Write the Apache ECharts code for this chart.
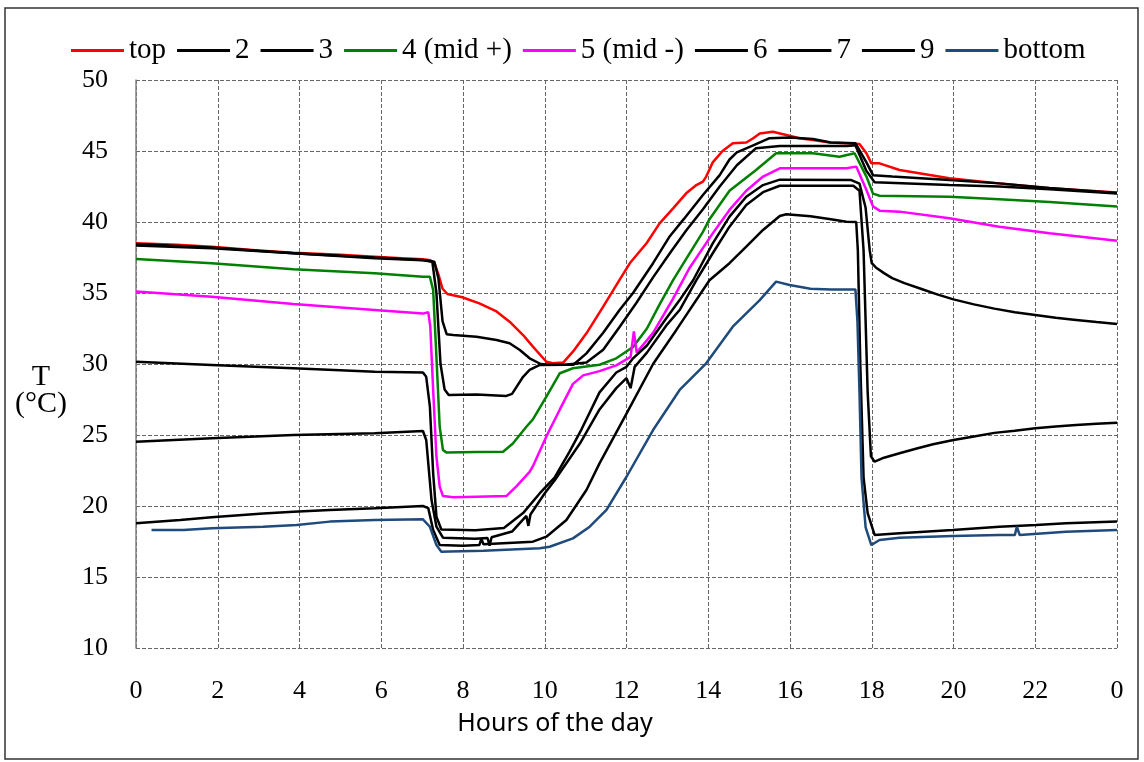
<!DOCTYPE html>
<html>
<head>
<meta charset="utf-8">
<script src="https://cdn.jsdelivr.net/npm/echarts@6/dist/echarts.min.js"></script>
<style>
  html, body { margin: 0; padding: 0; background: #fff; }
  #main { width: 1144px; height: 762px; }
</style>
</head>
<body>
<div id="main"></div>
<script>
// hour ticks, 0..24, last one printed as 0 again
var hourTicks = [0, 2, 4, 6, 8, 10, 12, 14, 16, 18, 20, 22, 24];
var seriesNames = ['top', '2', '3', '4 (mid +)', '5 (mid -)', '6', '7', '9', 'bottom'];
var seriesColors = ['#ff0000', '#000000', '#000000', '#008000', '#ff00ff', '#000000', '#000000', '#000000', '#1f4a7c'];

// [hour, T in °C]
var topT = [[0,38.5],[1,38.4],[1.85,38.26],[3,38.0],[3.85,37.84],[5,37.7],[5.84,37.56],[6.5,37.45],[7.02,37.37],[7.2,37.3],[7.3,37.1],[7.4,36.3],[7.5,35.3],[7.62,34.93],[7.98,34.7],[8.4,34.27],[8.82,33.7],[9.14,32.98],[9.47,32.04],[9.71,31.22],[10.04,30.16],[10.2,30.05],[10.45,30.1],[10.69,30.87],[11.02,32.16],[11.43,34.04],[11.83,35.92],[12.08,37.09],[12.49,38.5],[12.81,39.9],[13.14,40.96],[13.46,42.02],[13.71,42.6],[13.87,42.84],[13.95,43.2],[14.11,44.2],[14.35,45.0],[14.6,45.54],[14.93,45.6],[15.1,45.9],[15.26,46.24],[15.58,46.36],[15.91,46.13],[16.23,45.9],[16.56,45.77],[16.97,45.6],[17.38,45.54],[17.7,45.5],[17.87,44.84],[17.99,44.13],[18.19,44.13],[18.68,43.66],[19.9,43.08],[21.12,42.72],[22.35,42.37],[24,42.07]];
var t2 = [[0,38.45],[1.85,38.2],[3.85,37.8],[5.84,37.5],[7.02,37.33],[7.3,37.2],[7.4,36.0],[7.5,33.0],[7.6,32.1],[7.76,32.04],[8.33,31.92],[8.82,31.69],[9.14,31.46],[9.39,30.99],[9.63,30.4],[9.9,30.0],[10.1,29.95],[10.7,29.95],[11.02,30.75],[11.43,32.2],[11.83,33.8],[12.16,35.0],[12.65,37.1],[13.06,39.0],[13.4,40.2],[13.87,41.9],[14.28,43.3],[14.52,44.4],[14.7,44.9],[15.1,45.4],[15.5,45.9],[16.0,45.95],[16.56,45.85],[17.0,45.6],[17.6,45.55],[17.87,44.2],[18.03,43.3],[18.5,43.2],[19.9,42.95],[21.12,42.72],[22.35,42.4],[24,42.05]];
var t3 = [[0,38.35],[1.85,38.15],[3.85,37.8],[5.84,37.45],[7.02,37.3],[7.25,37.2],[7.35,35],[7.45,30],[7.55,28.2],[7.65,27.82],[8.33,27.85],[9.06,27.75],[9.2,27.9],[9.47,29.1],[9.63,29.58],[9.88,29.93],[10.5,29.95],[11.02,30.1],[11.43,31.0],[11.83,32.6],[12.24,34.3],[12.65,36.1],[13.06,37.8],[13.46,39.4],[13.87,40.9],[14.28,42.5],[14.7,44.0],[15.17,45.2],[15.75,45.35],[17.4,45.35],[17.6,45.4],[17.87,43.6],[18.07,42.8],[19.9,42.6],[21.12,42.5],[22.35,42.3],[24,42.0]];
var t4 = [[0,37.4],[1.85,37.09],[3.85,36.67],[5.84,36.39],[7.02,36.15],[7.19,36.15],[7.27,35.2],[7.35,30.5],[7.43,25.58],[7.51,23.94],[7.6,23.76],[8.33,23.8],[8.98,23.82],[9.22,24.4],[9.55,25.58],[9.71,26.1],[10.04,27.7],[10.37,29.35],[10.69,29.7],[11.34,29.95],[11.75,30.4],[12.16,31.2],[12.5,32.5],[12.81,34.2],[13.14,35.9],[13.46,37.4],[13.87,39.3],[14.03,40.2],[14.52,42.2],[15.17,43.66],[15.66,44.84],[16.56,44.84],[17.21,44.6],[17.58,44.84],[17.87,43.2],[18.03,42.0],[18.19,41.85],[19.9,41.78],[21.12,41.6],[22.35,41.4],[24,41.1]];
var t5 = [[0,35.1],[1.85,34.74],[3.85,34.23],[5.84,33.8],[7.02,33.55],[7.15,33.65],[7.2,32.63],[7.27,28.17],[7.35,23.47],[7.43,21.36],[7.51,20.7],[7.76,20.61],[8.33,20.65],[9.06,20.7],[9.3,21.36],[9.63,22.4],[9.71,22.8],[10.04,24.9],[10.37,26.8],[10.69,28.6],[10.94,29.2],[11.34,29.5],[11.75,29.9],[12.1,30.5],[12.18,32.3],[12.25,30.8],[12.65,32.2],[13.14,34.6],[13.55,36.8],[14.11,39.2],[14.52,40.85],[14.93,42.2],[15.34,43.2],[15.75,43.78],[17.38,43.78],[17.62,43.9],[17.87,42.25],[18.03,41.1],[18.19,40.8],[18.68,40.73],[19.9,40.26],[21.12,39.67],[22.35,39.2],[24,38.68]];
var t6 = [[0,30.15],[1.85,29.93],[3.85,29.7],[5.84,29.46],[7.02,29.4],[7.1,29.1],[7.19,27.0],[7.27,22.3],[7.35,19.25],[7.47,18.35],[8.3,18.3],[9.0,18.45],[9.47,19.5],[9.88,20.9],[10.24,22.0],[10.6,23.8],[10.9,25.4],[11.34,28.0],[11.75,29.4],[12.0,29.8],[12.16,30.4],[12.5,31.3],[12.97,33.2],[13.3,34.5],[13.63,35.9],[14.11,38.5],[14.52,40.38],[14.93,41.78],[15.34,42.6],[15.75,42.98],[17.5,42.95],[17.7,42.7],[17.85,41.0],[17.95,38.0],[18.0,37.1],[18.1,36.8],[18.3,36.4],[18.5,36.05],[18.8,35.7],[19.2,35.3],[19.6,34.9],[20.0,34.55],[20.5,34.2],[21.0,33.9],[21.5,33.65],[22.0,33.45],[22.5,33.25],[23.0,33.1],[23.5,32.95],[24,32.82]];
var t7 = [[0,24.53],[1.85,24.77],[3.85,25.0],[5.84,25.12],[7.02,25.28],[7.1,24.65],[7.23,20.42],[7.35,18.54],[7.51,17.77],[8.3,17.7],[8.6,17.75],[8.65,17.2],[8.7,17.8],[9.2,18.2],[9.55,19.3],[9.6,18.6],[9.65,19.4],[10.0,20.9],[10.24,21.8],[10.86,24.4],[11.34,26.8],[11.75,28.3],[12.0,29.0],[12.1,28.3],[12.2,29.8],[12.5,30.8],[12.97,32.7],[13.3,33.8],[13.71,35.9],[14.11,37.8],[14.52,39.67],[14.93,41.2],[15.34,42.1],[15.75,42.55],[17.55,42.55],[17.7,42.2],[17.8,38.0],[17.9,28.0],[17.98,23.5],[18.07,23.12],[18.3,23.4],[18.68,23.71],[19.1,24.05],[19.5,24.35],[20.0,24.65],[20.5,24.9],[21.0,25.15],[21.5,25.3],[22.0,25.47],[22.5,25.6],[23.0,25.7],[23.5,25.8],[24,25.87]];
var t9 = [[0,18.78],[1.08,19.01],[1.85,19.2],[3.11,19.48],[3.85,19.6],[4.74,19.72],[5.84,19.84],[7.02,20.0],[7.15,19.85],[7.27,18.31],[7.43,17.25],[8.0,17.2],[8.4,17.25],[8.45,17.7],[8.5,17.3],[9.71,17.49],[10.04,17.84],[10.53,19.01],[11.02,21.13],[11.34,23.0],[12.0,26.5],[12.65,30.0],[13.22,32.4],[14.03,35.9],[14.52,37.1],[14.93,38.26],[15.34,39.44],[15.75,40.42],[15.91,40.55],[16.5,40.4],[17.0,40.2],[17.38,40.02],[17.62,40.0],[17.66,38],[17.72,30],[17.8,22],[17.9,19.5],[18.07,17.96],[18.68,18.08],[19.98,18.31],[21.12,18.54],[22.02,18.66],[22.75,18.78],[24,18.9]];
var bottomT = [[0.38,18.31],[1.16,18.31],[1.85,18.43],[3.11,18.54],[3.93,18.66],[4.74,18.9],[5.84,19.01],[7.02,19.06],[7.19,18.54],[7.35,17.25],[7.47,16.78],[7.68,16.8],[8.5,16.85],[9.88,17.02],[10.12,17.13],[10.69,17.72],[11.1,18.54],[11.51,19.72],[12.0,22.06],[12.65,25.35],[13.3,28.17],[13.95,30.05],[14.6,32.63],[15.26,34.5],[15.66,35.8],[15.99,35.56],[16.5,35.3],[17.0,35.25],[17.6,35.25],[17.65,33],[17.7,28],[17.75,22],[17.85,18.5],[17.99,17.25],[18.19,17.61],[18.68,17.77],[19.98,17.89],[21.12,17.96],[21.5,17.95],[21.55,18.54],[21.62,17.95],[22.75,18.19],[24,18.31]];

var allData = [topT, t2, t3, t4, t5, t6, t7, t9, bottomT];

var myChart = echarts.init(document.getElementById('main'));

var series = [];
for (var i = 0; i < allData.length; i++) {
  series.push({
    name: seriesNames[i],
    type: 'line',
    data: allData[i],
    symbol: 'none',
    showSymbol: false,
    color: seriesColors[i],
    lineStyle: { width: 2.5, color: seriesColors[i] }
  });
}

var gridLine = { show: true, lineStyle: { color: '#666', width: 1, type: [4, 2] } };

var option = {
  backgroundColor: '#fff',
  animation: false,
  legend: {
    top: 31,
    left: 66,
    icon: 'rect',
    itemWidth: 53,
    itemHeight: 3,
    itemGap: 11,
    textStyle: { fontFamily: 'Liberation Serif', fontSize: 29, color: '#000' },
    data: seriesNames
  },
  grid: { left: 136, right: 27, top: 80, bottom: 114 },
  xAxis: {
    type: 'value',
    min: 0,
    max: 24,
    interval: 2,
    axisLine: { show: false },
    axisTick: { show: false },
    splitLine: gridLine,
    axisLabel: {
      margin: 30,
      fontFamily: 'Liberation Serif',
      fontSize: 26,
      color: '#000',
      formatter: function (v) { return String(v % 24); }
    }
  },
  yAxis: {
    type: 'value',
    min: 10,
    max: 50,
    interval: 5,
    axisLine: { show: true, lineStyle: { color: '#808080', width: 1.5 } },
    axisTick: { show: false },
    splitLine: gridLine,
    axisLabel: { margin: 28, fontFamily: 'Liberation Serif', fontSize: 26, color: '#000' }
  },
  graphic: [
    {
      type: 'rect',
      shape: { x: 5, y: 8, width: 1133, height: 751 },
      style: { fill: 'none', stroke: '#333', lineWidth: 1.5 },
      silent: true
    },
    {
      type: 'text',
      x: 41,
      y: 391,
      style: {
        text: 'T\n(°C)',
        fontFamily: 'Liberation Serif',
        fontSize: 30,
        lineHeight: 27,
        align: 'center',
        verticalAlign: 'middle',
        fill: '#000'
      }
    },
    {
      type: 'text',
      x: 555,
      y: 724,
      style: {
        text: 'Hours of the day',
        fontFamily: 'Noto Sans',
        fontSize: 25,
        align: 'center',
        verticalAlign: 'middle',
        fill: '#000'
      }
    }
  ],
  series: series
};

option && myChart.setOption(option);
</script>
</body>
</html>
